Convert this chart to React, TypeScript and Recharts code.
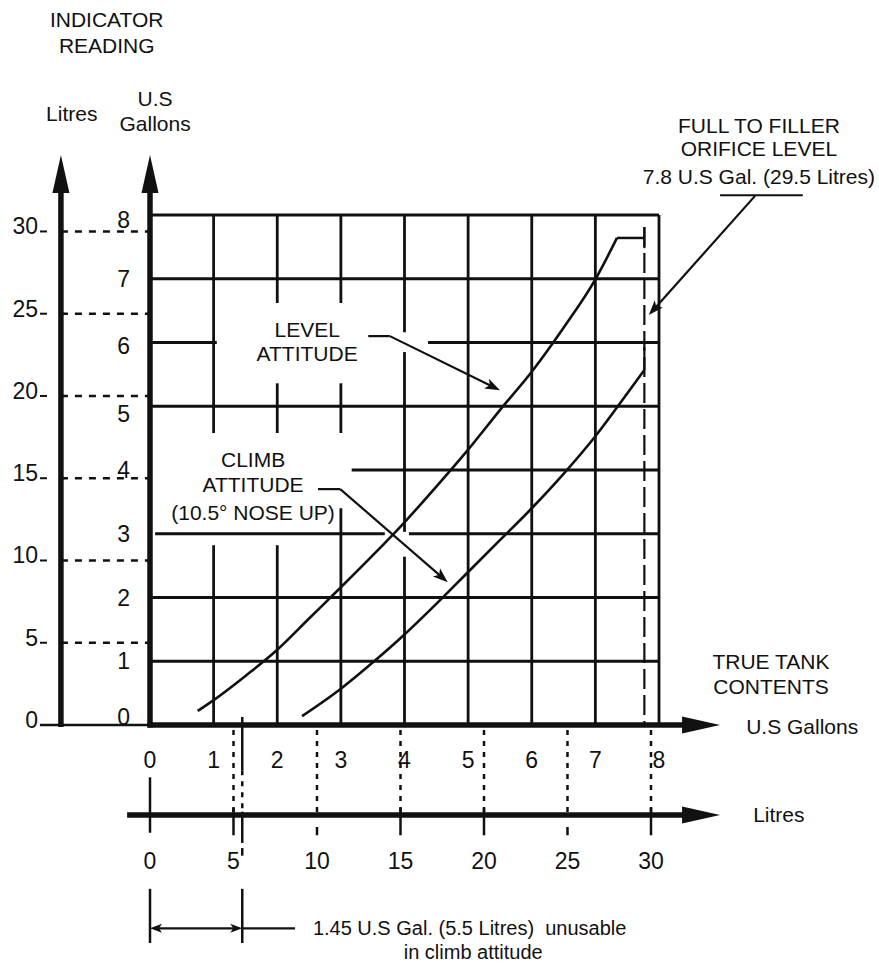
import React from 'react';
import { ComposedChart, Line, XAxis, YAxis, ReferenceLine, ReferenceDot } from 'recharts';

const W = 879;
const H = 963;
const FONT = '"Liberation Sans", Arimo, Arial, Helvetica, sans-serif';
const INK = '#111111';
const TEXT_SIZE = 21;
const DIGIT_SIZE = 23;

// ---- axes -------------------------------------------------------------
const GAL_TICKS = [0, 1, 2, 3, 4, 5, 6, 7, 8];
const LITRE_TICKS = [0, 5, 10, 15, 20, 25, 30];
const GAL_DOMAIN: [number, number] = [0, 8];
const LITRE_Y_DOMAIN: [number, number] = [0, 31];
const LITRE_X_DOMAIN: [number, number] = [0, 30.48];

// ---- curves: true tank contents (US gal) -> indicator reading (US gal) --
const LEVEL_X = [0.75, 1.0, 1.5, 2.0, 2.5, 3.0, 3.5, 4.0, 4.5, 5.0, 5.5, 6.0, 6.5, 7.0, 7.34];
const LEVEL_Y = [0.22, 0.39, 0.77, 1.18, 1.67, 2.16, 2.66, 3.18, 3.74, 4.32, 4.94, 5.54, 6.23, 6.99, 7.64];
const CLIMB_X = [2.39, 3.0, 3.5, 4.0, 4.5, 5.0, 5.5, 6.0, 6.5, 7.0, 7.5, 7.77];
const CLIMB_Y = [0.14, 0.57, 0.98, 1.42, 1.9, 2.4, 2.9, 3.4, 3.94, 4.53, 5.2, 5.57];

const FULL_GAL = 7.77; // full to filler orifice level
const LEVEL_MAX_READING = 7.64;
const CLIMB_TOP_READING = 5.93;
const UNUSABLE_GAL = 1.45;

// ---- grid (gallon units), broken where the notes sit ------------------
// horizontal: [y, x1, x2]
const H_GRID: number[][] = [
  [8, 0, 8], [7, 0, 8], [6, 0, 1.05], [6, 4.37, 8], [5, 0, 8],
  [4, 3.17, 8], [3, 0.08, 3.69], [3, 4.07, 8], [2, 0, 8], [1, 0, 8],
];
// vertical: [x, y1, y2]
const V_GRID: number[][] = [
  [1, 8, 4.58], [1, 2.82, 0],
  [2, 8, 6.62], [2, 5.36, 4.58], [2, 2.82, 0],
  [3, 8, 6.62], [3, 5.36, 4.58], [3, 3.4, 0],
  [4, 8, 6.16], [4, 5.85, 3.03], [4, 2.64, 0],
  [5, 8, 0], [6, 8, 0], [7, 8, 0], [8, 8, 0],
];

// ---- text notes (gallon units) ----------------------------------------
type Note = { t: string; x: number; y: number; a?: 'start' | 'middle' | 'end'; s?: number };
const NOTES: Note[] = [
  { t: 'INDICATOR', x: -0.68, y: 11.06 },
  { t: 'READING', x: -0.68, y: 10.66 },
  { t: 'Litres', x: -1.23, y: 9.6 },
  { t: 'U.S', x: 0.08, y: 9.82 },
  { t: 'Gallons', x: 0.08, y: 9.43 },
  { t: 'LEVEL', x: 2.47, y: 6.2 },
  { t: 'ATTITUDE', x: 2.47, y: 5.82 },
  { t: 'CLIMB', x: 1.62, y: 4.17 },
  { t: 'ATTITUDE', x: 1.62, y: 3.77 },
  { t: '(10.5° NOSE UP)', x: 1.62, y: 3.33 },
  { t: 'FULL TO FILLER', x: 9.57, y: 9.41 },
  { t: 'ORIFICE LEVEL', x: 9.57, y: 9.04 },
  { t: '7.8 U.S Gal. (29.5 Litres)', x: 9.57, y: 8.6 },
  { t: 'TRUE TANK', x: 9.76, y: 0.99 },
  { t: 'CONTENTS', x: 9.76, y: 0.61 },
  { t: 'U.S Gallons', x: 9.37, y: -0.03, a: 'start' },
  { t: 'Litres', x: 9.48, y: -1.41, a: 'start' },
  { t: '1.45 U.S Gal. (5.5 Litres)\u00a0\u00a0unusable', x: 2.56, y: -3.19, a: 'start', s: 20 },
  { t: 'in climb attitude', x: 5.08, y: -3.56, s: 20 },
];

// small vertical nudges of the gallon reading labels, as printed
const GAL_LABEL_DY: Record<number, number> = { 0: -8, 5: 8, 6: 3, 8: 5 };

// ---- shapes -----------------------------------------------------------
const arrowShape = (head: number, half: number, notch: number, both = false) => (p: any) => {
  const x1 = +p.x1, y1 = +p.y1, x2 = +p.x2, y2 = +p.y2;
  const dx = x2 - x1, dy = y2 - y1;
  const len = Math.hypot(dx, dy) || 1;
  const ux = dx / len, uy = dy / len;
  const tip = (tx: number, ty: number, sx: number, sy: number) => {
    const bx = tx - sx * head, by = ty - sy * head;
    const nx = tx - sx * head * notch, ny = ty - sy * head * notch;
    return `${tx},${ty} ${bx - sy * half},${by + sx * half} ${nx},${ny} ${bx + sy * half},${by - sx * half}`;
  };
  const cut = head * notch * 0.9;
  const lx1 = both ? x1 + ux * cut : x1;
  const ly1 = both ? y1 + uy * cut : y1;
  return (
    <g>
      <line x1={lx1} y1={ly1} x2={x2 - ux * cut} y2={y2 - uy * cut} stroke={p.stroke} strokeWidth={p.strokeWidth} />
      <polygon points={tip(x2, y2, ux, uy)} fill={p.stroke} />
      {both && <polygon points={tip(x1, y1, -ux, -uy)} fill={p.stroke} />}
    </g>
  );
};
const AXIS_ARROW = arrowShape(38, 8.5, 1);
const LEADER_ARROW = arrowShape(15, 5.5, 0.75);
const SMALL_BOTH = arrowShape(12, 4.5, 0.75, true);

const textShape = (n: Note) => (p: any) => (
  <text
    x={p.cx}
    y={p.cy}
    textAnchor={n.a || 'middle'}
    dominantBaseline="central"
    fontSize={n.s || TEXT_SIZE}
    fontFamily={FONT}
    fill={INK}
  >
    {n.t}
  </text>
);

const LitreTick = (p: any) => {
  const v = p.payload ? p.payload.value : '';
  return (
    <g>
      <text x={p.x} y={p.y - 5} textAnchor="end" dominantBaseline="central" fontSize={DIGIT_SIZE} fontFamily={FONT} fill={INK}>
        {v}
      </text>
      {v !== 0 && <line x1={p.x + 2} x2={p.x + 9} y1={p.y} y2={p.y} stroke={INK} strokeWidth={2} />}
    </g>
  );
};

const GallonTick = (p: any) => {
  const v = p.payload ? p.payload.value : 0;
  return (
    <text
      x={p.x}
      y={p.y + (GAL_LABEL_DY[v] || 0)}
      textAnchor="end"
      dominantBaseline="central"
      fontSize={DIGIT_SIZE}
      fontFamily={FONT}
      fill={INK}
    >
      {v}
    </text>
  );
};

type SegOpts = { w?: number; dash?: string; shape?: any; xa?: string; ya?: string };
const seg = (key: string, x1: number, y1: number, x2: number, y2: number, o: SegOpts = {}) => (
  <ReferenceLine
    key={key}
    xAxisId={o.xa || 'g'}
    yAxisId={o.ya || 'g'}
    segment={[{ x: x1, y: y1 }, { x: x2, y: y2 }]}
    ifOverflow="visible"
    stroke={INK}
    strokeWidth={o.w ?? 2.8}
    strokeDasharray={o.dash}
    shape={o.shape}
  />
);

const tickStyle = { fill: INK, fontSize: DIGIT_SIZE, fontFamily: FONT };

export default function App() {
  const level = LEVEL_X.map((x, i) => ({ x, y: LEVEL_Y[i] }));
  const climb = CLIMB_X.map((x, i) => ({ x, y: CLIMB_Y[i] }));
  const litreRows = LITRE_TICKS.map((L) => ({ L }));

  const els: any[] = [];
  // grid
  H_GRID.forEach(([y, a, b], i) => els.push(seg(`h${i}`, a, y, b, y)));
  V_GRID.forEach(([x, a, b], i) => els.push(seg(`v${i}`, x, a, x, b)));

  // main axes with arrows
  els.push(seg('yaxG', 0, -0.04, 0, 8.94, { w: 5.5, shape: AXIS_ARROW }));
  els.push(seg('xaxG', -0.04, 0, 8.96, 0, { w: 5.5, shape: AXIS_ARROW }));
  els.push(seg('yaxL', -1.4, -0.03, -1.4, 8.94, { w: 5.5, shape: AXIS_ARROW }));
  els.push(seg('xaxL', -0.36, -1.41, 8.96, -1.41, { w: 5.5, shape: AXIS_ARROW }));

  // litre reading levels carried across to the gallon scale
  els.push(seg('l0', -1.73, 0, 0, 0, { w: 2.5, ya: 'l' }));
  LITRE_TICKS.filter((v) => v > 0).forEach((v) =>
    els.push(seg(`ll${v}`, -1.4, v, 0, v, { w: 2.5, dash: '7 7', ya: 'l' }))
  );

  // litre contents carried up to the gallon axis, and litre tick marks
  LITRE_TICKS.filter((v) => v > 0).forEach((v) =>
    els.push(seg(`lv${v}`, v, -0.08, v, -1.41, { w: 2.5, dash: '5 6', xa: 'l' }))
  );
  els.push(seg('lt0', 0, -0.82, 0, -1.69, { w: 2.5, xa: 'l' }));
  [5, 15, 20, 30].forEach((v) => els.push(seg(`lt${v}`, v, -1.3, v, -1.73, { w: 2.5, xa: 'l' })));
  [10, 25].forEach((v) => els.push(seg(`ld${v}`, v, -1.6, v, -1.73, { w: 2.5, xa: 'l' })));

  // full-to-filler marker
  els.push(seg('fullD', FULL_GAL, 7.81, FULL_GAL, 0, { w: 2.2, dash: '20 6' }));
  els.push(seg('fullT', FULL_GAL, 7.81, FULL_GAL, 7.48, { w: 2.2 }));
  els.push(seg('levelFlat', LEVEL_X[LEVEL_X.length - 1], LEVEL_MAX_READING, FULL_GAL, LEVEL_MAX_READING, { w: 2.5 }));
  els.push(seg('climbTop', FULL_GAL, CLIMB_Y[CLIMB_Y.length - 1], FULL_GAL, CLIMB_TOP_READING, { w: 2.2 }));

  // unusable fuel line and bracket
  els.push(seg('u1', UNUSABLE_GAL, 0.125, UNUSABLE_GAL, -0.71, { w: 2.5 }));
  els.push(seg('u2', UNUSABLE_GAL, -0.71, UNUSABLE_GAL, -1.36, { w: 2.5, dash: '5 6' }));
  els.push(seg('u3', UNUSABLE_GAL, -1.36, UNUSABLE_GAL, -1.85, { w: 2.5 }));
  els.push(seg('u4', UNUSABLE_GAL, -1.93, UNUSABLE_GAL, -2.05, { w: 2.5 }));
  els.push(seg('u5', UNUSABLE_GAL, -2.57, UNUSABLE_GAL, -3.42, { w: 2.5 }));
  els.push(seg('u6', 0, -2.57, 0, -3.42, { w: 2.5 }));
  els.push(seg('u7', 0, -3.19, UNUSABLE_GAL, -3.19, { w: 2.2, shape: SMALL_BOTH }));
  els.push(seg('u8', UNUSABLE_GAL, -3.19, 2.28, -3.19, { w: 2.2 }));

  // leaders
  els.push(seg('lv1', 3.43, 6.1, 3.77, 6.1, { w: 2.2 }));
  els.push(seg('lv2', 3.77, 6.1, 5.5, 5.25, { w: 2.2, shape: LEADER_ARROW }));
  els.push(seg('cl1', 2.64, 3.7, 2.99, 3.7, { w: 2.2 }));
  els.push(seg('cl2', 2.99, 3.7, 4.68, 2.24, { w: 2.2, shape: LEADER_ARROW }));
  els.push(seg('fu1', 8.96, 8.31, 10.26, 8.31, { w: 2.2 }));
  els.push(seg('fu2', 9.51, 8.3, 7.84, 6.43, { w: 2.2, shape: LEADER_ARROW }));

  const notes = NOTES.map((n, i) => (
    <ReferenceDot
      key={`n${i}`}
      xAxisId="g"
      yAxisId="g"
      x={n.x}
      y={n.y}
      r={0}
      ifOverflow="visible"
      shape={textShape(n)}
    />
  ));

  return (
    <div style={{ position: 'absolute', left: 0, top: 0, width: W, height: H, background: '#ffffff' }}>
      <ComposedChart width={W} height={H} data={litreRows} margin={{ top: 215, right: 220, bottom: 88, left: 0 }}>
        <XAxis
          xAxisId="g"
          type="number"
          dataKey="x"
          domain={GAL_DOMAIN}
          ticks={GAL_TICKS}
          interval={0}
          allowDataOverflow
          axisLine={false}
          tickLine={false}
          height={90}
          tickMargin={21}
          tick={tickStyle}
        />
        <XAxis
          xAxisId="l"
          type="number"
          dataKey="L"
          domain={LITRE_X_DOMAIN}
          ticks={LITRE_TICKS}
          interval={0}
          allowDataOverflow
          axisLine={false}
          tickLine={false}
          height={60}
          tickMargin={32}
          tick={tickStyle}
        />
        <YAxis
          yAxisId="g"
          type="number"
          domain={GAL_DOMAIN}
          ticks={GAL_TICKS}
          interval={0}
          allowDataOverflow
          axisLine={false}
          tickLine={false}
          width={89}
          tickMargin={14}
          tick={GallonTick}
        />
        <YAxis
          yAxisId="l"
          type="number"
          domain={LITRE_Y_DOMAIN}
          ticks={LITRE_TICKS}
          interval={0}
          allowDataOverflow
          axisLine={false}
          tickLine={false}
          width={61}
          tickMargin={17}
          tick={LitreTick}
        />
        {els}
        <Line
          xAxisId="g"
          yAxisId="g"
          data={level}
          dataKey="y"
          type="monotone"
          stroke={INK}
          strokeWidth={2.6}
          dot={false}
          activeDot={false}
          isAnimationActive={false}
        />
        <Line
          xAxisId="g"
          yAxisId="g"
          data={climb}
          dataKey="y"
          type="monotone"
          stroke={INK}
          strokeWidth={2.6}
          dot={false}
          activeDot={false}
          isAnimationActive={false}
        />
        {notes}
      </ComposedChart>
    </div>
  );
}
